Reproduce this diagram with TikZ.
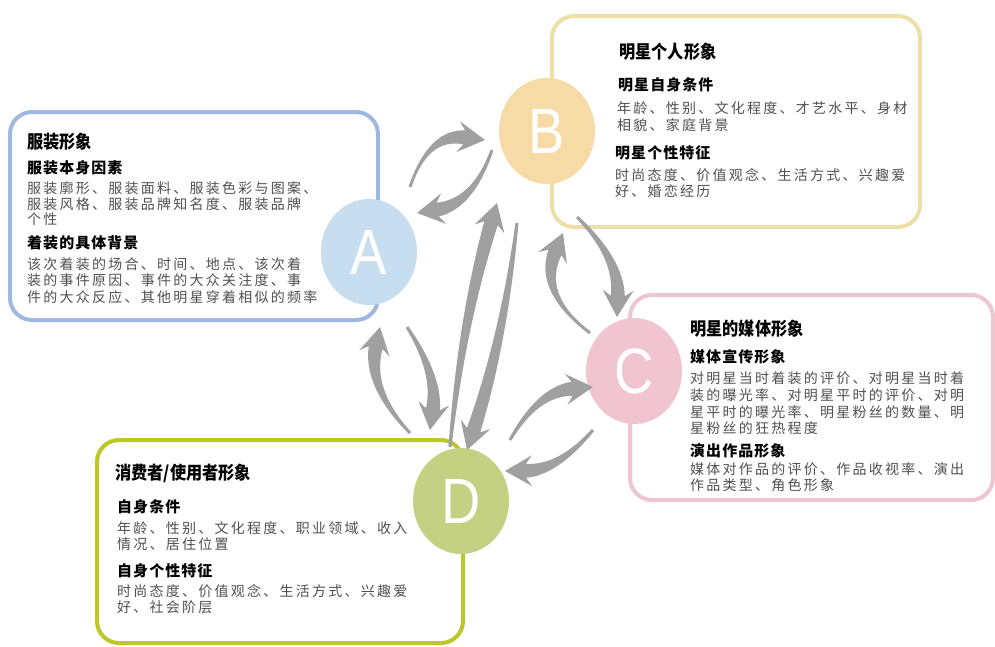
\documentclass[tikz,border=0pt]{standalone}
\usepackage{fontspec}
\usetikzlibrary{calc,shapes.geometric}
\newfontfamily\cjkt[FakeStretch=0.9]{Noto Sans CJK SC}
\newfontfamily\cjks[LetterSpace=7]{Noto Sans CJK SC}
\newfontfamily\cjkb[LetterSpace=16]{Noto Sans CJK SC}
\newfontfamily\letterfont{Liberation Sans}
\definecolor{lineA}{RGB}{158,184,224}
\definecolor{fillA}{RGB}{199,222,241}
\definecolor{lineB}{RGB}{238,222,168}
\definecolor{fillB}{RGB}{246,219,166}
\definecolor{lineC}{RGB}{238,198,207}
\definecolor{fillC}{RGB}{241,197,207}
\definecolor{lineD}{RGB}{186,200,40}
\definecolor{fillD}{RGB}{197,209,130}
\definecolor{arrowgray}{RGB}{160,160,160}
\definecolor{bodygray}{RGB}{80,80,80}
\tikzset{
  infobox/.style={draw, line width=4pt, rounded corners=22pt, fill=white, inner sep=0pt},
  letterdisc/.style={ellipse, inner sep=0pt, minimum width=96pt, minimum height=106pt,
    text=white, font=\letterfont\fontsize{64}{64}\selectfont},
  ttl/.style={anchor=west, inner sep=0pt, font=\cjkt\bfseries\fontsize{18}{20}\selectfont},
  subh/.style={anchor=west, inner sep=0pt, font=\cjks\bfseries\fontsize{15}{16}\selectfont},
  bod/.style={anchor=west, inner sep=0pt, text=bodygray, font=\cjkb\fontsize{14}{16}\selectfont},
}
% tapered curved arrow: #1 start, #2 tip, #3 bend (quadratic control offset)
\newcommand\tarrow[3]{%
  \path ($(#1)!0.5!(#2)$) coordinate (tm);
  \path ($(tm)!#3!90:(#2)$) coordinate (tc);
  \path ($(#2)!21pt!(tc)$) coordinate (th);
  \path ($(#2)!27pt!(tc)$) coordinate (tb);
  \path ($(tc)!4.5pt!90:(#2)$) coordinate (tcl);
  \path ($(tc)!4.5pt!-90:(#2)$) coordinate (tcr);
  \path ($(#1)!1.5pt!90:(tc)$) coordinate (tsl);
  \path ($(#1)!1.5pt!-90:(tc)$) coordinate (tsr);
  \path ($(th)!7pt!90:(#2)$) coordinate (thl);
  \path ($(th)!7pt!-90:(#2)$) coordinate (thr);
  \fill[arrowgray] (tsl) .. controls ($(tsl)!0.667!(tcl)$) and ($(thl)!0.667!(tcl)$) .. (thl)
    -- ($(tb)!15.5pt!90:(#2)$) -- (#2) -- ($(tb)!15.5pt!-90:(#2)$)
    -- (thr) .. controls ($(thr)!0.667!(tcr)$) and ($(tsr)!0.667!(tcr)$) .. (tsr) -- cycle;
}
\begin{document}
\begin{tikzpicture}[x=1pt,y=-1pt]
\useasboundingbox (0,0) rectangle (995,646);
\fill[white] (0,0) rectangle (995,646);

% boxes
\node[infobox, draw=lineA, minimum width=368pt, minimum height=208pt] (boxA) at (194,216) {};
\node[infobox, draw=lineB, minimum width=368pt, minimum height=211pt] (boxB) at (736,121.5) {};
\node[infobox, draw=lineC, minimum width=363pt, minimum height=205pt] (boxC) at (811.5,397.5) {};
\node[infobox, draw=lineD, minimum width=366pt, minimum height=203pt] (boxD) at (280,541.5) {};

% texts A
\node[ttl] (A-t) at (27,142) {服装形象};
\node[subh] (A-s1) at (27,168) {服装本身因素};
\node[bod] (A-b1) at (27,188) {服装廓形、服装面料、服装色彩与图案、};
\node[bod] (A-b2) at (27,204) {服装风格、服装品牌知名度、服装品牌};
\node[bod] (A-b3) at (27,219) {个性};
\node[subh] (A-s2) at (27,243) {着装的具体背景};
\node[bod] (A-b4) at (27,264) {该次着装的场合、时间、地点、该次着};
\node[bod] (A-b5) at (27,280) {装的事件原因、事件的大众关注度、事};
\node[bod] (A-b6) at (27,297) {件的大众反应、其他明星穿着相似的频率};

% texts B
\node[ttl] (B-t) at (619,52) {明星个人形象};
\node[subh] (B-s1) at (618,85) {明星自身条件};
\node[bod] (B-b1) at (617,108) {年龄、性别、文化程度、才艺水平、身材};
\node[bod] (B-b2) at (617,125) {相貌、家庭背景};
\node[subh] (B-s2) at (615,153) {明星个性特征};
\node[bod] (B-b3) at (615,175) {时尚态度、价值观念、生活方式、兴趣爱};
\node[bod] (B-b4) at (615,191) {好、婚恋经历};

% texts C
\node[ttl] (C-t) at (690,329) {明星的媒体形象};
\node[subh] (C-s1) at (690,357) {媒体宣传形象};
\node[bod] (C-b1) at (690,378) {对明星当时着装的评价、对明星当时着};
\node[bod] (C-b2) at (690,395) {装的曝光率、对明星平时的评价、对明};
\node[bod] (C-b3) at (690,412) {星平时的曝光率、明星粉丝的数量、明};
\node[bod] (C-b4) at (690,428) {星粉丝的狂热程度};
\node[subh] (C-s2) at (690,451) {演出作品形象};
\node[bod] (C-b5) at (690,469) {媒体对作品的评价、作品收视率、演出};
\node[bod] (C-b6) at (690,485) {作品类型、角色形象};

% texts D
\node[ttl] (D-t) at (115,473) {消费者/使用者形象};
\node[subh] (D-s1) at (117,507) {自身条件};
\node[bod] (D-b1) at (117,528) {年龄、性别、文化程度、职业领域、收入};
\node[bod] (D-b2) at (117,544) {情况、居住位置};
\node[subh] (D-s2) at (117,571) {自身个性特征};
\node[bod] (D-b3) at (117,591) {时尚态度、价值观念、生活方式、兴趣爱};
\node[bod] (D-b4) at (117,607) {好、社会阶层};

% discs
\node[letterdisc, fill=fillA] (A) at (369,252) {\scalebox{0.85}[1]{A}};
\node[letterdisc, fill=fillB] (B) at (547,131) {\scalebox{0.85}[1]{B}};
\node[letterdisc, fill=fillC] (C) at (634,371) {\scalebox{0.85}[1]{C}};
\node[letterdisc, fill=fillD] (D) at (461,501) {\scalebox{0.85}[1]{D}};

% arrow end points
\coordinate (ab-s) at ($(A)+(41,-65)$);  \coordinate (ab-e) at ($(B)+(-62,9)$);
\coordinate (ba-s) at ($(B)+(-55,19)$);  \coordinate (ba-e) at ($(A)+(48,-39)$);
\coordinate (bc-s) at ($(B)+(30,86)$);   \coordinate (bc-e) at ($(C)+(-17,-54)$);
\coordinate (cb-s) at ($(C)+(-44,-38)$); \coordinate (cb-e) at ($(B)+(16,102)$);
\coordinate (da-s) at ($(D)+(-51,-68)$); \coordinate (da-e) at ($(A)+(11,75)$);
\coordinate (ad-s) at ($(A)+(38,75)$);   \coordinate (ad-e) at ($(D)+(-31,-71)$);
\coordinate (db-s) at ($(D)+(-11,-54)$); \coordinate (db-e) at ($(B)+(-50,72)$);
\coordinate (bd-s) at ($(B)+(-30,92)$);  \coordinate (bd-e) at ($(D)+(6,-51)$);
\coordinate (dc-s) at ($(D)+(49,-61)$);  \coordinate (dc-e) at ($(C)+(-41,16)$);
\coordinate (cd-s) at ($(C)+(-41,59)$);  \coordinate (cd-e) at ($(D)+(44,-30)$);

\tarrow{ab-s}{ab-e}{36pt}
\tarrow{ba-s}{ba-e}{29pt}
\tarrow{bc-s}{bc-e}{24pt}
\tarrow{cb-s}{cb-e}{40pt}
\tarrow{da-s}{da-e}{29pt}
\tarrow{ad-s}{ad-e}{20pt}
\tarrow{db-s}{db-e}{12pt}
\tarrow{bd-s}{bd-e}{12pt}
\tarrow{dc-s}{dc-e}{26pt}
\tarrow{cd-s}{cd-e}{22pt}
\end{tikzpicture}
\end{document}
